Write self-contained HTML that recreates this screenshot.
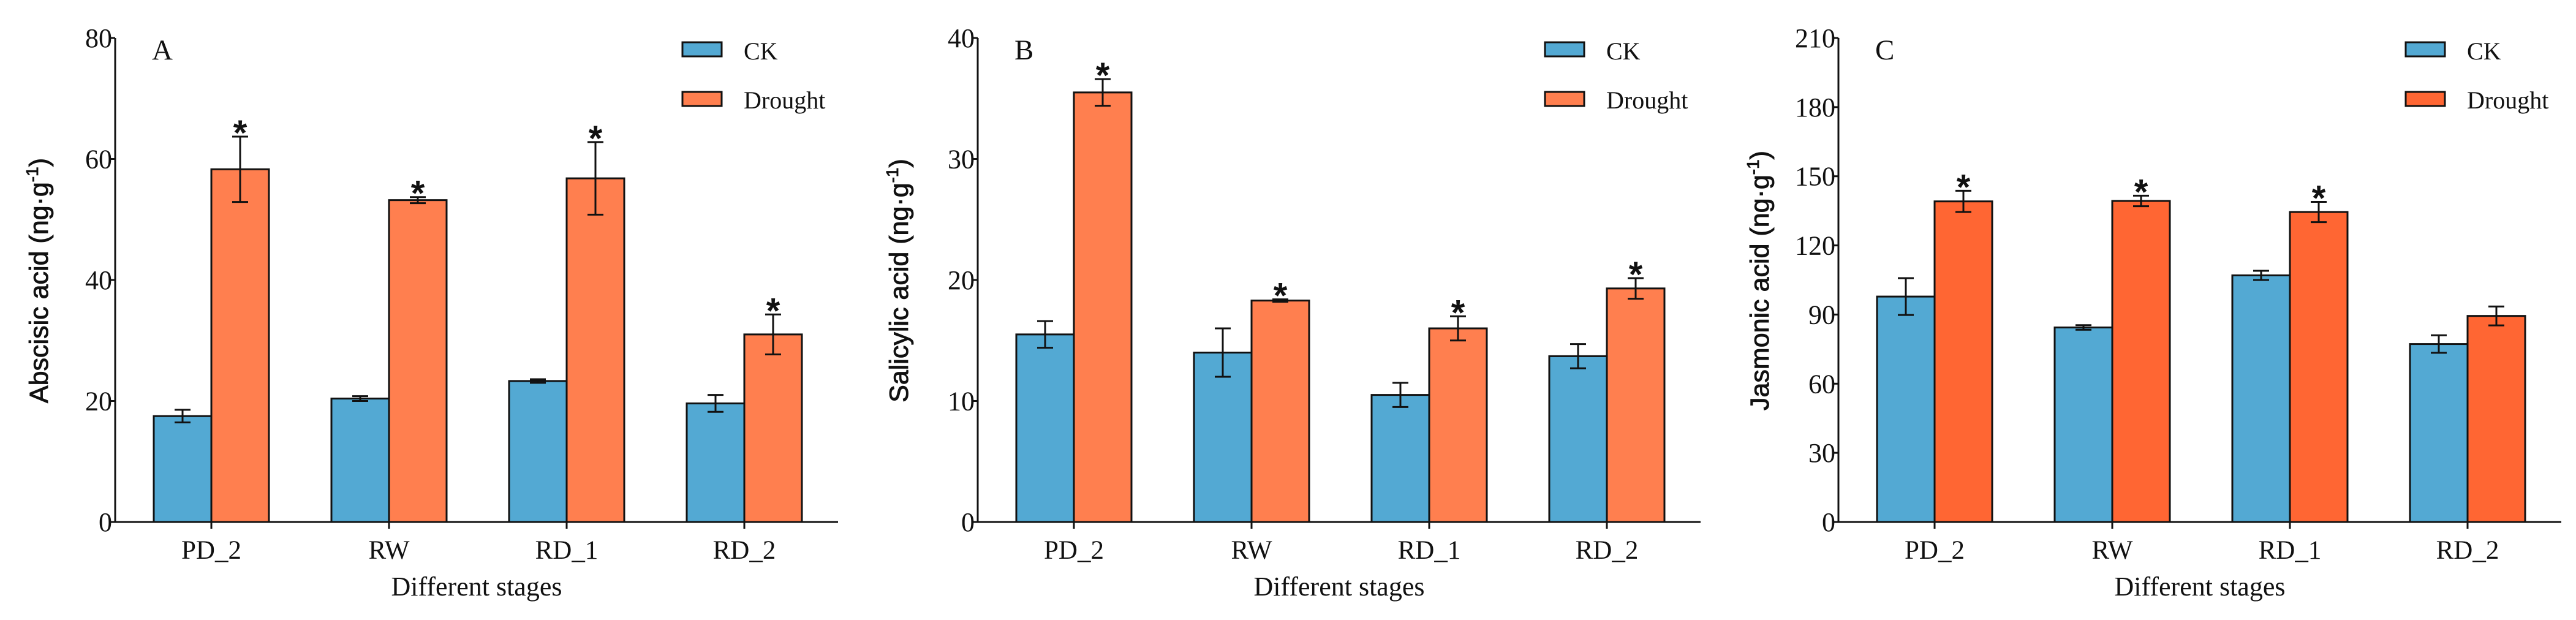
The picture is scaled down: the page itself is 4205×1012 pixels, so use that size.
<!DOCTYPE html>
<html><head><meta charset="utf-8"><style>
html,body{margin:0;padding:0;background:#fff;}
svg{display:block;}
</style></head><body>
<svg id="fig" width="4205" height="1012" viewBox="0 0 4205 1012" xmlns="http://www.w3.org/2000/svg"></svg>
<script>
const categories = ["PD_2","RW","RD_1","RD_2"];
const absCK = [17.5, 20.4, 23.3, 19.6];
const absCKErr = [1.05, 0.4, 0.3, 1.4];
const absDr = [58.3, 53.2, 56.8, 31.0];
const absDrErr = [5.4, 0.5, 6.0, 3.3];
const absSig = [true, true, true, true];
const absTicks = [0, 20, 40, 60, 80];

const salCK = [15.5, 14.0, 10.5, 13.7];
const salCKErr = [1.1, 2.0, 1.0, 1.0];
const salDr = [35.5, 18.3, 16.0, 19.3];
const salDrErr = [1.1, 0.1, 1.0, 0.85];
const salSig = [true, true, true, true];
const salTicks = [0, 10, 20, 30, 40];

const jaCK = [97.8, 84.4, 107.0, 77.2];
const jaCKErr = [8.0, 1.0, 2.0, 3.8];
const jaDr = [139.1, 139.3, 134.5, 89.4];
const jaDrErr = [4.6, 2.3, 4.4, 4.1];
const jaSig = [true, true, true, false];
const jaTicks = [0, 30, 60, 90, 120, 150, 180, 210];

const NS = "http://www.w3.org/2000/svg";
const svg = document.getElementById("fig");
function mk(tag, attrs, parent, text){
  const e = document.createElementNS(NS, tag);
  for (const k in attrs) e.setAttribute(k, attrs[k]);
  if (text !== undefined) e.textContent = text;
  (parent||svg).appendChild(e);
  return e;
}
const SERIF = "'Liberation Serif', serif";
const SANS = "'Liberation Sans', sans-serif";

function panel(opt){
  const g = mk("g", {});
  
  
  const ax = opt.ax, y0 = 852, yTop = 62, xEnd = ax + 1180;
  const ymax = opt.ticks[opt.ticks.length-1];
  const Y = v => y0 - (v/ymax)*(y0-yTop);
  const X = i => ax + 157 + i*290;
  const bw = 94;
  for (let i=0;i<categories.length;i++){
    const cx = X(i);
    const series = [[opt.ck, opt.ckErr, "#53A9D3", cx-bw, "ck"],[opt.dr, opt.drErr, opt.drColor, cx, "drought"]];
    series.forEach(s=>{
      const v = s[0][i], er = s[1][i];
      const r = mk("rect", {x:s[3], y:Y(v), width:bw, height:y0-Y(v), fill:s[2], stroke:"#111", "stroke-width":3}, g);
      
      
      const ex = s[3] + bw/2;
      const eb = mk("path", {d:`M${ex},${Y(v+er)}V${Y(v-er)}M${ex-13},${Y(v+er)}H${ex+13}M${ex-13},${Y(v-er)}H${ex+13}`, stroke:"#111","stroke-width":3, fill:"none"}, g);
      
      
    });
    if (opt.sig[i]){
      const top = Y(opt.dr[i] + opt.drErr[i]);
      const st = mk("text", {x:cx+bw/2, y:top+14, "text-anchor":"middle", "font-family":SANS, "font-weight":"bold", "font-size":58, fill:"#111"}, g, "*");
      
      
    }
    const tk = mk("line", {x1:cx, x2:cx, y1:y0, y2:y0+11, stroke:"#111","stroke-width":3}, g);
    
    
    const cl = mk("text", {x:cx, y:912, "text-anchor":"middle", "font-family":SERIF, "font-size":43, fill:"#111"}, g, categories[i]);
    
    
  }
  const axes = mk("path", {d:`M${ax},${yTop}V${y0}H${xEnd}`, stroke:"#111","stroke-width":3, fill:"none"}, g);
  
  
  opt.ticks.forEach(t=>{
    const l = mk("line", {x1:ax-8, x2:ax, y1:Y(t), y2:Y(t), stroke:"#111","stroke-width":3}, g);
    
    
    const tl = mk("text", {x:ax-5, y:Y(t)+15, "text-anchor":"end", "font-family":SERIF, "font-size":44, fill:"#111"}, g, String(t));
    
    
  });
  const lt = mk("text", {x:ax+60, y:97, "font-family":SERIF, "font-size":47, fill:"#111"}, g, opt.letter);
  
  
  const xt = mk("text", {x:ax+590, y:972, "text-anchor":"middle", "font-family":SERIF, "font-size":44, fill:"#111"}, g, "Different stages");
  
  
  const yt = mk("text", {transform:`translate(${opt.ytx},458) rotate(-90)`, "text-anchor":"middle", "font-family":SANS, "font-size":43, fill:"#111", stroke:"#111", "stroke-width":0.9}, g);
  
  
  mk("tspan", {}, yt, opt.ytitle + " (ng·g");
  mk("tspan", {"font-size":28, dy:-16}, yt, "-1");
  mk("tspan", {dy:16}, yt, ")");
  [["CK","#53A9D3",69,97],["Drought",opt.drColor,150,177]].forEach(L=>{
    const lg = mk("g", {}, g);
    
    
    mk("rect", {x:ax+926, y:L[2], width:64, height:23, fill:L[1], stroke:"#111","stroke-width":3}, lg);
    mk("text", {x:ax+1026, y:L[3], "font-family":SERIF, "font-size":40, fill:"#111"}, lg, L[0]);
  });
}
panel({name:"panel-a-abscisic-acid", ax:188, letter:"A", ytitle:"Abscisic acid", ytx:78, ticks:absTicks, ck:absCK, ckErr:absCKErr, dr:absDr, drErr:absDrErr, sig:absSig, drColor:"#FF7F4F"});
panel({name:"panel-b-salicylic-acid", ax:1596, letter:"B", ytitle:"Salicylic acid", ytx:1482, ticks:salTicks, ck:salCK, ckErr:salCKErr, dr:salDr, drErr:salDrErr, sig:salSig, drColor:"#FF7F4F"});
panel({name:"panel-c-jasmonic-acid", ax:3001, letter:"C", ytitle:"Jasmonic acid", ytx:2887, ticks:jaTicks, ck:jaCK, ckErr:jaCKErr, dr:jaDr, drErr:jaDrErr, sig:jaSig, drColor:"#FF6633"});
</script>
</body></html>
